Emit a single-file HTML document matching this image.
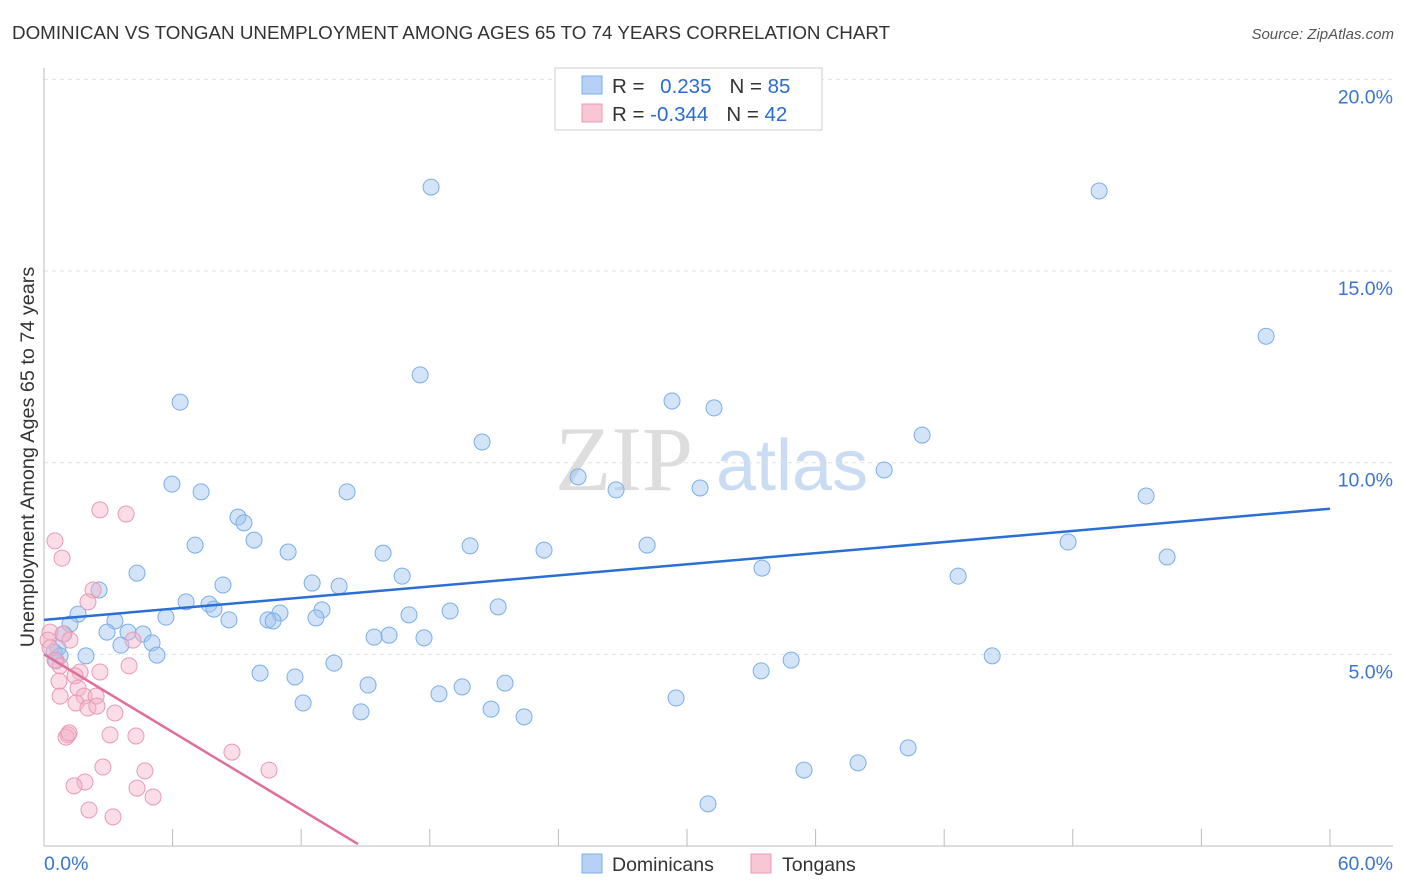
<!DOCTYPE html>
<html><head><meta charset="utf-8"><style>
body{margin:0;background:#fff;width:1406px;height:892px;overflow:hidden;font-family:"Liberation Sans",sans-serif}
svg{position:absolute;left:0;top:0}
</style></head><body>
<svg width="1406" height="892" id="chart">
<text x="12" y="39" font-size="18.8" fill="#333">DOMINICAN VS TONGAN UNEMPLOYMENT AMONG AGES 65 TO 74 YEARS CORRELATION CHART</text>
<text x="1394" y="39" font-size="15" fill="#555" font-style="italic" text-anchor="end">Source: ZipAtlas.com</text>
<g>
<text x="555" y="490" font-size="92" font-family="Liberation Serif,serif" fill="#ddd">ZIP</text>
<text x="716" y="490" font-size="72" fill="#c9dcf3">atlas</text>
</g>
<g id="grid"></g>
<g id="axes"></g>
<g id="pts"></g>
<g id="trend"></g>
<text transform="translate(34,457) rotate(-90)" font-size="19.8" fill="#333" text-anchor="middle">Unemployment Among Ages 65 to 74 years</text>
<g>
<rect x="555" y="68" width="267" height="62" fill="#fff" stroke="#ccc"/>
<rect x="582" y="76" width="20" height="18" fill="#b6d1f5" stroke="#7aaee8"/>
<rect x="582" y="104" width="20" height="18" fill="#f9c6d6" stroke="#e89ab5"/>
<text x="612" y="93" font-size="20.5" fill="#333">R = <tspan fill="#2a6bd0" dx="10">0.235</tspan><tspan dx="18">N = </tspan><tspan fill="#2a6bd0">85</tspan></text>
<text x="612" y="121" font-size="20.5" fill="#333">R = <tspan fill="#2a6bd0">-0.344</tspan><tspan dx="18">N = </tspan><tspan fill="#2a6bd0">42</tspan></text>
</g>
<g>
<rect x="582" y="854" width="20" height="19" fill="#b6d1f5" stroke="#7aaee8"/>
<text x="612" y="871" font-size="19.5" fill="#333">Dominicans</text>
<rect x="751" y="854" width="20" height="19" fill="#f9c6d6" stroke="#e89ab5"/>
<text x="782" y="871" font-size="19.5" fill="#333">Tongans</text>
</g>
</svg>
<script>
const yTicks=[5,10,15,20];
const yTickLabels=["5.0%","10.0%","15.0%","20.0%"];
const xTicks=[0,6,12,18,24,30,36,42,48,54,60];
const blueX=[18.06,49.23,57.02,17.55,6.35,29.30,31.26,40.97,20.44,39.20,24.92,5.97,7.33,14.14,26.69,30.61,51.42,9.05,9.33,9.80,7.05,19.88,28.14,23.33,47.78,52.40,11.39,15.82,33.50,4.34,16.71,42.65,8.35,12.51,13.77,2.57,6.63,7.70,7.93,5.69,8.63,1.59,3.31,1.21,11.01,10.45,10.69,12.97,12.69,17.03,18.95,21.19,2.94,3.92,4.62,0.93,3.59,5.04,5.27,0.65,0.47,0.75,1.96,15.40,16.10,17.73,13.53,34.86,44.24,10.08,11.71,33.46,15.12,18.43,19.51,21.51,29.49,12.09,14.79,20.86,22.40,40.32,37.98,35.46,30.98,0.56];
const blueY=[17.19,17.09,13.30,12.29,11.58,11.61,11.43,10.72,10.54,9.81,9.63,9.44,9.24,9.24,9.29,9.34,9.13,8.58,8.43,7.98,7.85,7.83,7.85,7.72,7.93,7.54,7.67,7.64,7.25,7.12,7.04,7.04,6.81,6.86,6.78,6.68,6.37,6.31,6.18,5.97,5.90,6.05,5.87,5.79,6.08,5.90,5.87,6.16,5.95,6.03,6.13,6.24,5.58,5.58,5.53,5.53,5.24,5.30,4.98,5.17,5.06,4.96,4.96,5.45,5.50,5.43,4.77,4.85,4.96,4.51,4.41,4.57,4.20,3.97,4.15,4.25,3.86,3.73,3.50,3.57,3.37,2.56,2.17,1.98,1.10,4.83];
const pinkX=[0.51,0.84,2.61,3.83,2.29,2.05,0.28,0.89,0.19,1.21,0.28,4.15,0.51,0.75,1.68,2.61,3.97,0.70,1.45,1.59,0.75,1.87,2.43,1.49,2.05,2.47,3.31,1.12,1.03,1.17,3.08,4.29,8.77,2.75,4.71,10.50,1.91,1.40,4.34,5.09,2.10,3.22];
const pinkY=[7.96,7.51,8.77,8.66,6.68,6.37,5.58,5.53,5.37,5.37,5.17,5.37,4.85,4.70,4.54,4.54,4.70,4.30,4.44,4.12,3.91,3.91,3.91,3.73,3.60,3.65,3.47,2.90,2.84,2.95,2.90,2.87,2.45,2.06,1.96,1.98,1.67,1.57,1.51,1.28,0.94,0.76];
const blueTrend=[[0,5.9],[60,8.8]];
const pinkTrend=[[0,5.0],[14.65,0.05]];
const X=v=>44+v*21.433, Y=v=>846-v*38.33;
const NS="http://www.w3.org/2000/svg";
function mk(t,a,p){const e=document.createElementNS(NS,t);for(const k in a)e.setAttribute(k,a[k]);p.appendChild(e);return e;}
const grid=document.getElementById('grid'),axes=document.getElementById('axes'),pts=document.getElementById('pts'),tr=document.getElementById('trend');
yTicks.forEach((v,i)=>{
 const l=mk('line',{x1:44,x2:1393,y1:Y(v),y2:Y(v),stroke:'#e2e2e2','stroke-dasharray':'4,4'},grid);
 
 
 const t=mk('text',{x:1393,y:Y(v)+24,'font-size':19.5,fill:'#3a75d0','text-anchor':'end'},axes);
 t.textContent=yTickLabels[i];
 
 
});
const ax=mk('line',{x1:44,x2:44,y1:68,y2:846,stroke:'#bbb'},axes);


const bx=mk('line',{x1:44,x2:1393,y1:846,y2:846,stroke:'#bbb'},axes);


xTicks.forEach(v=>{
 const l=mk('line',{x1:X(v),x2:X(v),y1:829,y2:846,stroke:'#bbb'},axes);
 
 
});
const x0=mk('text',{x:44,y:870,'font-size':19.5,fill:'#3a75d0'},axes);x0.textContent='0.0%';


const x1=mk('text',{x:1393,y:870,'font-size':19.5,fill:'#3a75d0','text-anchor':'end'},axes);x1.textContent='60.0%';


blueX.forEach((v,i)=>{
 const c=mk('circle',{cx:X(v),cy:Y(blueY[i]),r:8,fill:'rgba(160,196,240,0.45)',stroke:'#7aaee8','stroke-width':1},pts);
 
 
});
pinkX.forEach((v,i)=>{
 const c=mk('circle',{cx:X(v),cy:Y(pinkY[i]),r:8,fill:'rgba(244,180,200,0.45)',stroke:'#e89ab5','stroke-width':1},pts);
 
 
});
const b=mk('line',{x1:X(blueTrend[0][0]),y1:Y(blueTrend[0][1]),x2:X(blueTrend[1][0]),y2:Y(blueTrend[1][1]),stroke:'#2a6fd3','stroke-width':2.5},tr);


const p=mk('line',{x1:X(pinkTrend[0][0]),y1:Y(pinkTrend[0][1]),x2:X(pinkTrend[1][0]),y2:Y(pinkTrend[1][1]),stroke:'#e0709a','stroke-width':2.5},tr);


</script>
</body></html>
